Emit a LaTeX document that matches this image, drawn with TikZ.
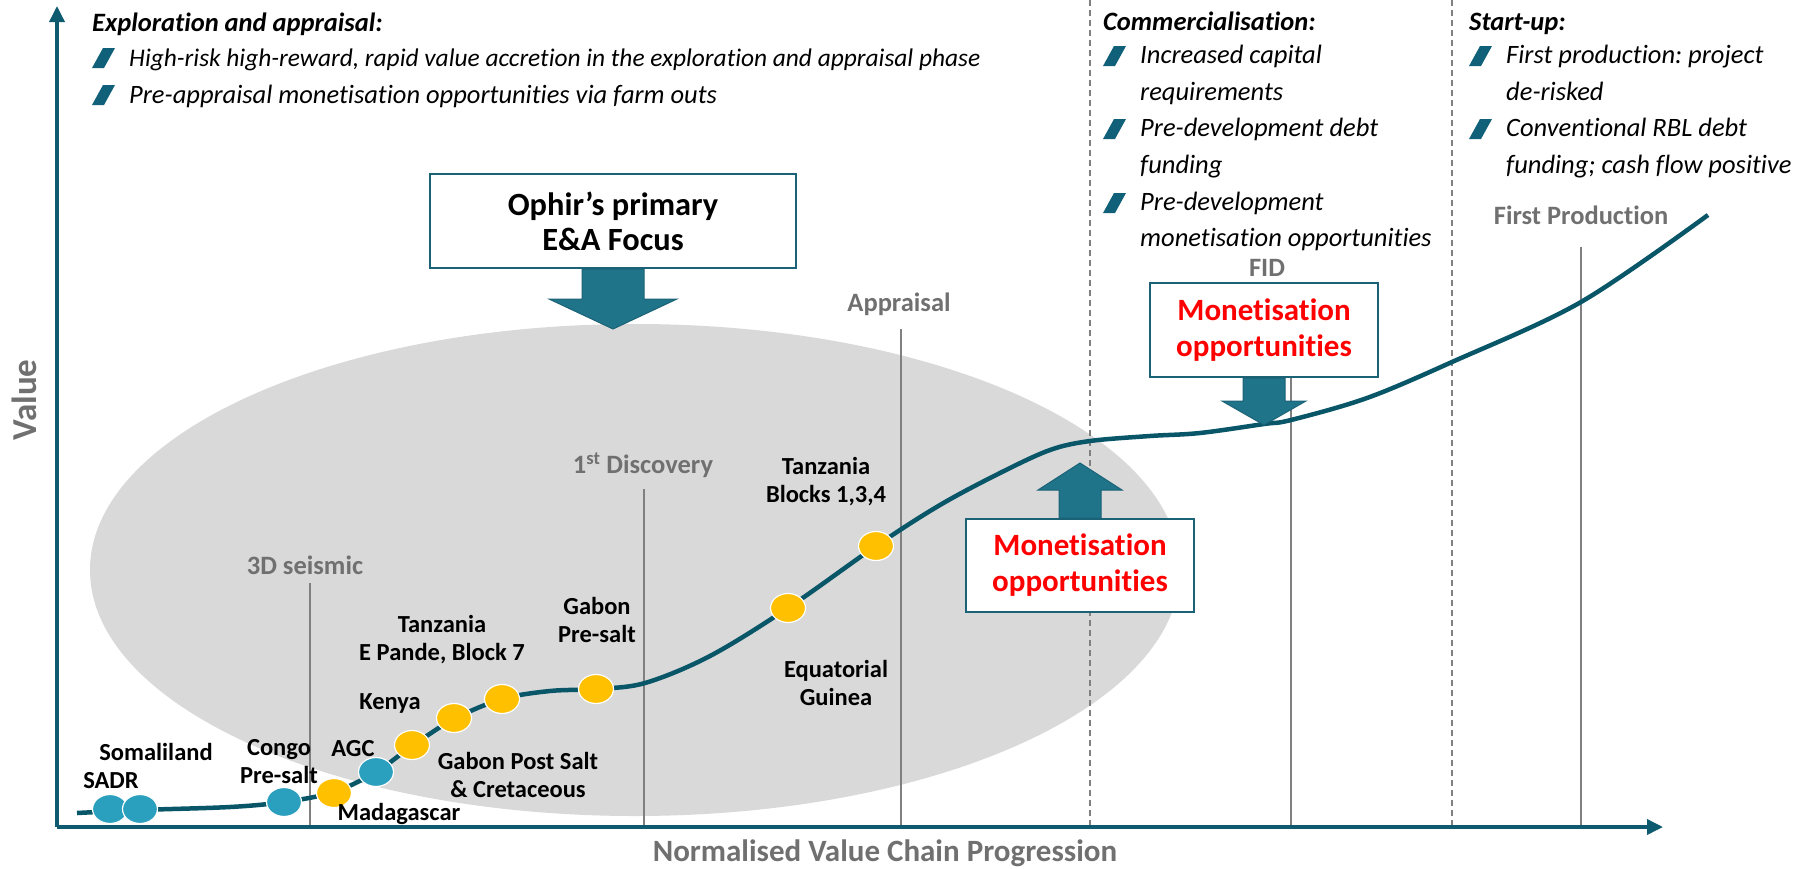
\documentclass[tikz,border=0pt]{standalone}
\usepackage{fontspec}
\setmainfont{Carlito}[Ligatures=NoCommon]
\usetikzlibrary{arrows.meta,shapes.geometric,calc}
\frenchspacing

\definecolor{axisteal}{RGB}{14,90,110}
\definecolor{curveteal}{RGB}{8,86,104}
\definecolor{arrowteal}{RGB}{31,116,137}
\definecolor{boxteal}{RGB}{28,98,118}
\definecolor{bulletteal}{RGB}{16,96,122}
\definecolor{ovalgrey}{RGB}{217,217,217}
\definecolor{stagegrey}{RGB}{112,112,112}
\definecolor{linegrey}{RGB}{128,128,128}
\definecolor{oilyellow}{RGB}{255,192,0}
\definecolor{wellblue}{RGB}{43,160,190}
\definecolor{monred}{RGB}{255,0,0}

\tikzset{
  stage/.style={font=\fontsize{26.5}{30}\selectfont\bfseries, text=stagegrey, inner sep=0pt},
  asset/.style={font=\fontsize{24.5}{28}\selectfont\bfseries, align=center, inner sep=0pt},
  yellowdot/.style={ellipse, fill=oilyellow, draw=white, line width=1.2pt,
    minimum width=35pt, minimum height=29pt, inner sep=0pt},
  bluedot/.style={yellowdot, fill=wellblue},
  milestone/.style={linegrey, line width=1.4pt},
  phase/.style={linegrey, line width=1.2pt, dash pattern=on 6pt off 4pt},
  axis/.style={axisteal, line width=3.5pt, -{Triangle[length=16pt,width=15pt]}},
  callout/.style={draw=boxteal, line width=2pt, fill=white, align=center, inner sep=0pt},
  blockarrow/.style={fill=arrowteal, draw=boxteal, line width=1pt},
  notehead/.style={font=\fontsize{26.5}{37}\selectfont\bfseries\itshape, anchor=base west, inner sep=0pt},
  noteline/.style={font=\fontsize{26.5}{37}\selectfont\itshape, anchor=base west, inner sep=0pt},
  slashbullet/.pic={\fill[bulletteal] (-0.5,-10) -- (11.5,-10) -- (0.5,10) -- (-11.5,10) -- cycle;}
}

\begin{document}
\begin{tikzpicture}[x=1pt,y=-1pt]
  \useasboundingbox (0,0) rectangle (1802,868);

  % E&A focus area
  \fill[ovalgrey] (635,570) ellipse [x radius=545pt, y radius=246pt];

  % milestones and phase borders
  \draw[milestone] (310,583) -- (310,827);
  \draw[milestone] (644,489) -- (644,827);
  \draw[milestone] (901,329) -- (901,827);
  \draw[milestone] (1291,377) -- (1291,827);
  \draw[milestone] (1581,247) -- (1581,827);
  \draw[phase] (1090,0) -- (1090,827);
  \draw[phase] (1452,0) -- (1452,827);

  % axes
  \coordinate (origin) at (57,827);
  \draw[axis] (origin) -- (57,6);
  \draw[axis] (origin) -- (1663,827);
  \node[font=\fontsize{35}{40}\selectfont\bfseries, text=stagegrey, rotate=90] (vlab) at (24,400) {Value};
  \node[font=\fontsize{31}{36}\selectfont\bfseries, text=stagegrey] (hlab) at (885,853) {Normalised Value Chain Progression};

  % value curve
  \draw[curveteal, line width=4.5pt] plot[smooth, tension=0.55] coordinates {
    (77,813) (140,810) (230,807) (284,802) (334,792) (376,772) (412,746)
    (454,719) (502,699) (550,691) (596,689) (645,683) (710,656) (788,608)
    (876,546) (940,505) (1000,473) (1050,450) (1090,441) (1150,436)
    (1200,433) (1264,424) (1291,420) (1367,398) (1452,362) (1581,302) (1708,215)};

  % assets on the curve
  \node[bluedot] (sadr) at (110,809) {};
  \node[bluedot] (soma) at (140,809) {};
  \node[bluedot] (congo) at (284,802) {};
  \node[yellowdot] (mada) at (334,793) {};
  \node[bluedot] (agc) at (376,772) {};
  \node[yellowdot] (gabps) at (412,745) {};
  \node[yellowdot] (kenya) at (454,718) {};
  \node[yellowdot] (tzep) at (502,699) {};
  \node[yellowdot] (gabpre) at (596,689) {};
  \node[yellowdot] (eqg) at (788,608) {};
  \node[yellowdot] (tzb) at (876,546) {};

  \node[asset] (l-soma) at (156,752) {Somaliland};
  \node[asset] (l-sadr) at (111,781) {SADR};
  \node[asset] (l-congo) at (279,762) {Congo\\Pre-salt};
  \node[asset] (l-agc) at (353,749) {AGC};
  \node[asset] (l-mada) at (399,814) {Madagascar};
  \node[asset] (l-gabps) at (518,775) {Gabon Post Salt\\\& Cretaceous};
  \node[asset] (l-kenya) at (390,703) {Kenya};
  \node[asset] (l-tzep) at (442,640) {Tanzania\\E Pande, Block 7};
  \node[asset] (l-gabpre) at (597,620) {Gabon\\Pre-salt};
  \node[asset] (l-eqg) at (836,683) {Equatorial\\Guinea};
  \node[asset] (l-tzb) at (826,482) {Tanzania\\Blocks 1,3,4};

  % milestone names
  \node[stage] (seis) at (305,565) {3D seismic};
  \node[stage] (disc) at (643,465) {1\textsuperscript{st} Discovery};
  \node[stage] (appr) at (899,304) {Appraisal};
  \node[stage] (fid) at (1267,268) {FID};
  \node[stage] (prod) at (1581,215) {First Production};

  % call-out boxes
  \node[callout, minimum width=366pt, minimum height=94pt,
        font=\fontsize{32.4}{35}\selectfont\bfseries] (focus) at (613,221) {Ophir’s primary\\E\&A Focus};
  \node[callout, minimum width=228pt, minimum height=94pt, text=monred,
        font=\fontsize{31}{36}\selectfont\bfseries] (fidbox) at (1264,330) {Monetisation\\opportunities};
  \node[callout, minimum width=228pt, minimum height=93pt, text=monred,
        font=\fontsize{31}{36}\selectfont\bfseries] (salebox) at (1080,565.5) {Monetisation\\opportunities};

  \draw[blockarrow] ($(focus.south)+(-31,0)$) -- ++(0,30) -- ++(-33,0) -- ++(64,30)
    -- ++(64,-30) -- ++(-33,0) -- ++(0,-30) -- cycle;
  \draw[blockarrow] ($(fidbox.south)+(-21,0)$) -- ++(0,23) -- ++(-21,0) -- ++(42,24)
    -- ++(42,-24) -- ++(-21,0) -- ++(0,-23) -- cycle;
  \draw[blockarrow] ($(salebox.north)+(-21,0)$) -- ++(0,-28) -- ++(-21,0) -- ++(42,-27)
    -- ++(42,27) -- ++(-21,0) -- ++(0,28) -- cycle;

  % phase notes
  \node[notehead] (ea) at (92,31) {Exploration and appraisal:};
  \pic at (103.5,58) {slashbullet};
  \node[noteline, font=\fontsize{25.4}{37}\selectfont\itshape] (ea1) at (129,66) {High-risk high-reward, rapid value accretion in the exploration and appraisal phase};
  \pic at (103.5,95) {slashbullet};
  \node[noteline] (ea2) at (129,103) {Pre-appraisal monetisation opportunities via farm outs};

  \node[notehead] (com) at (1103,30) {Commercialisation:};
  \pic at (1114.5,56) {slashbullet};
  \node[noteline] (com1) at (1140,63) {Increased capital};
  \node[noteline] (com1b) at (1140,100) {requirements};
  \pic at (1114.5,129) {slashbullet};
  \node[noteline] (com2) at (1140,136) {Pre-development debt};
  \node[noteline] (com2b) at (1140,173) {funding};
  \pic at (1114.5,203) {slashbullet};
  \node[noteline] (com3) at (1140,210) {Pre-development};
  \node[noteline] (com3b) at (1140,246) {monetisation opportunities};

  \node[notehead] (su) at (1469,30) {Start-up:};
  \pic at (1480.5,56) {slashbullet};
  \node[noteline] (su1) at (1506,63) {First production: project};
  \node[noteline] (su1b) at (1506,100) {de-risked};
  \pic at (1480.5,129) {slashbullet};
  \node[noteline] (su2) at (1506,136) {Conventional RBL debt};
  \node[noteline] (su2b) at (1506,173) {funding; cash flow positive};
\end{tikzpicture}
\end{document}
